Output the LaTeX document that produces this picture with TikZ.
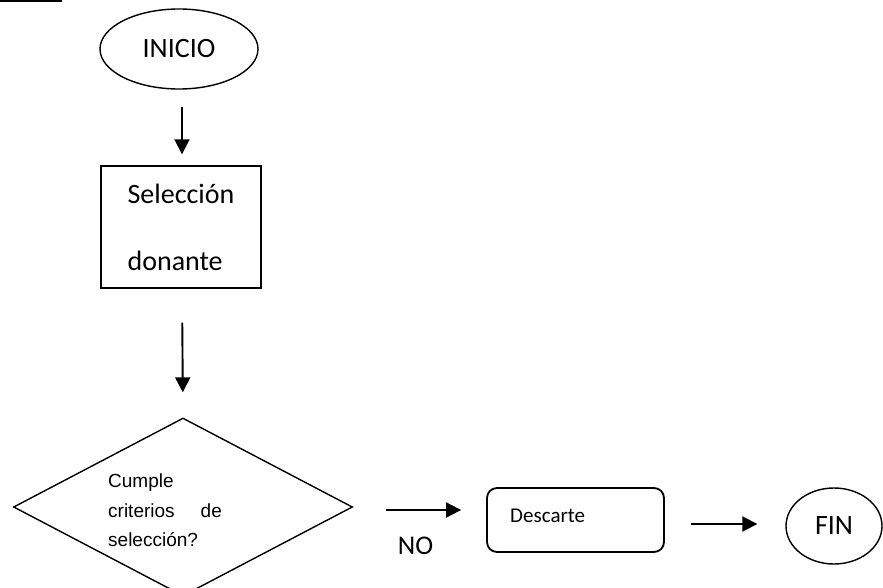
\documentclass[tikz,border=0pt]{standalone}
\usepackage{fontspec}
\setmainfont{Carlito}
\newfontfamily\arialf{Liberation Sans}
\usetikzlibrary{shapes.geometric,arrows.meta}
\tikzset{
  shp/.style={draw=black, line width=1.4pt, inner sep=0pt},
  oval/.style={shp, ellipse},
  procbox/.style={shp, rectangle, align=left},
  decision/.style={shp, diamond},
  arr/.style={line width=1.9pt, -{Triangle[length=15pt,width=15pt]}},
  lbl/.style={inner sep=0pt},
}
\begin{document}
\begin{tikzpicture}[x=1pt,y=-1pt]
\clip (0,0) rectangle (883,588);
\fill[black] (0,0) rectangle (62,2);
% INICIO
\node[oval, minimum width=158pt, minimum height=80pt,
      font=\fontsize{28}{34}\selectfont] (ini) at (179,49) {INICIO};
% Selección donante
\node[procbox, minimum width=160pt, minimum height=122pt,
      font=\fontsize{28}{34}\selectfont] (sel) at (181,227) {Selección\\[33pt]donante};
% decision
\node[decision, minimum width=339pt, minimum height=178pt, aspect=1.9] (dec) at (183,507) {};
\node[lbl, align=left, anchor=north west, font=\arialf\fontsize{19}{29.5}\selectfont]
  (dectxt) at (108,474) {Cumple\\criterios\hspace{26pt}de\\selección?};
% Descarte
\node[shp, rounded corners=10pt, line width=1.8pt, minimum width=177pt, minimum height=64pt] (desc) at (575.5,520) {};
\node[lbl, anchor=west, font=\fontsize{21}{25}\selectfont] (desctxt) at (510,516) {Descarte};
% FIN
\node[oval, minimum width=96pt, minimum height=76pt,
      font=\fontsize{28}{34}\selectfont] (fin) at (834,526) {FIN};
% arrows
\draw[arr, shorten <=17pt, shorten >=11pt] ([xshift=3pt]ini.south) -- ([xshift=1pt]sel.north);
\draw[arr, shorten <=34pt, shorten >=25pt] ([xshift=1pt]sel.south) -- (dec.north);
\draw[arr, shorten <=33pt, shorten >=25pt] ([yshift=-3pt]dec.east) -- ([yshift=-3pt]dec.east -| desc.west);
\node[lbl, font=\fontsize{27}{32}\selectfont] (no) at (415.5,546) {NO};
\draw[arr, shorten <=26pt, shorten >=28pt] ([yshift=-4pt]desc.east) -- ([yshift=2pt]fin.west);
\end{tikzpicture}
\end{document}
